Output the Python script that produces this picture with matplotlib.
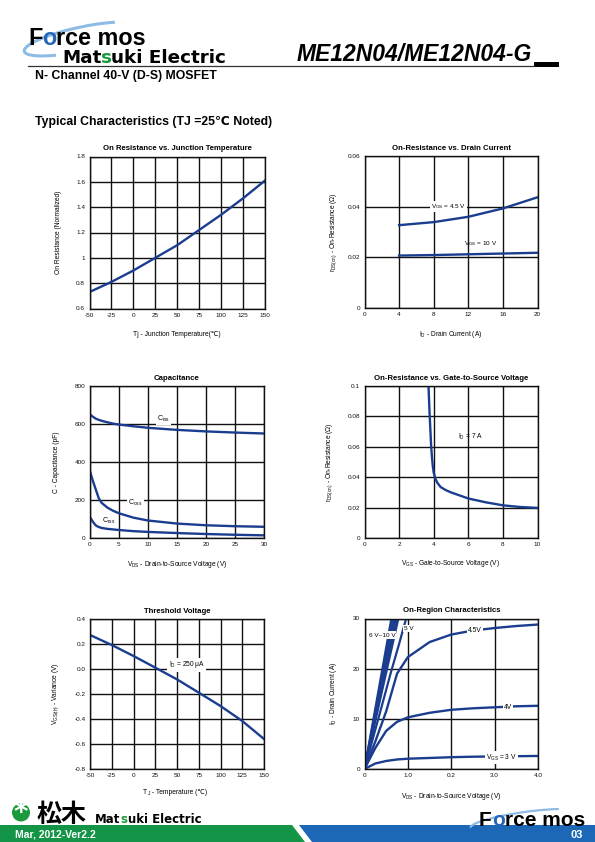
import matplotlib
matplotlib.use('Agg')
import matplotlib.pyplot as plt
from matplotlib.patches import Polygon, Circle, Arc, Rectangle
from matplotlib.transforms import Affine2D
from matplotlib.lines import Line2D
from matplotlib.font_manager import findfont, FontProperties
from matplotlib.ft2font import FT2Font

W, H = 595, 842
plt.rcParams['font.family'] = ['Liberation Sans', 'DejaVu Sans', 'Noto Sans CJK JP']
plt.rcParams['mathtext.fontset'] = 'custom'
plt.rcParams['mathtext.rm'] = 'Liberation Sans'
plt.rcParams['mathtext.it'] = 'Liberation Sans:italic'
plt.rcParams['mathtext.bf'] = 'Liberation Sans:bold'
plt.rcParams['mathtext.fallback'] = 'stixsans'
plt.rcParams['axes.unicode_minus'] = False

LINE = '#1b3d8f'

# ---------------- data ----------------
tj_temp = [-50, -25, 0, 25, 50, 75, 100, 125, 150]
ron_norm = [0.73, 0.81, 0.90, 1.0, 1.10, 1.22, 1.34, 1.47, 1.61]

id_current = [4, 8, 12, 16, 20]
ron_vgs45 = [0.0327, 0.0339, 0.0360, 0.0393, 0.0437]
ron_vgs10 = [0.0207, 0.0209, 0.0212, 0.0215, 0.0218]

cap_vds = [0, 0.5, 1, 1.5, 2, 3, 4, 5, 7.5, 10, 15, 20, 25, 30]
ciss = [650, 638, 628, 622, 617, 609, 602, 597, 588, 580, 569, 561, 555, 550]
coss = [350, 300, 255, 210, 185, 160, 143, 130, 107, 92, 76, 67, 62, 59]
crss = [110, 85, 66, 58, 53, 48, 45, 42, 36, 32, 26, 21, 17, 14]

vgs_sweep = [3.7, 3.75, 3.8, 3.85, 3.9, 3.95, 4.0, 4.1, 4.2, 4.4, 4.7, 5, 5.5, 6, 7, 8, 9, 10]
ron_vgs = [0.1, 0.085, 0.073, 0.061, 0.053, 0.047, 0.043, 0.039, 0.0365, 0.0335, 0.0315,
           0.030, 0.028, 0.026, 0.0235, 0.0215, 0.0204, 0.0198]

vth_temp = [-50, -25, 0, 25, 50, 75, 100, 125, 150]
vth_var = [0.272, 0.192, 0.104, 0.011, -0.083, -0.189, -0.296, -0.416, -0.56]

vds_on = [0, 0.25, 0.5, 0.75, 1.0, 1.5, 2.0, 2.5, 3.0, 3.5, 4.0]
id_vgs3 = [0, 1.1, 1.6, 1.9, 2.05, 2.2, 2.35, 2.45, 2.5, 2.55, 2.6]
id_vgs4 = [0, 4.2, 7.6, 9.4, 10.3, 11.2, 11.8, 12.1, 12.3, 12.5, 12.6]
id_vgs45 = [0, 5.5, 11.5, 19.0, 22.3, 25.3, 26.8, 27.6, 28.1, 28.5, 28.8]
vds_5v = [0, 0.2, 0.4, 0.6, 0.8, 0.96]
id_5v = [0, 6.3, 12.6, 19.0, 25.0, 30.0]
vds_hi_end = [0.78, 0.74, 0.70, 0.66, 0.62]   # 6 V ... 10 V at 30 A
id_hi_end = 30

# ---------------- figure ----------------
fig = plt.figure(figsize=(W / 100, H / 100), dpi=100)
pix = Affine2D().scale(1.0 / W, -1.0 / H).translate(0, 1) + fig.transFigure


def run_width(s, size, family, weight='normal', style='normal'):
    fonts = []
    for fam in [family, 'DejaVu Sans']:
        f = FT2Font(findfont(FontProperties(family=fam, weight=weight, style=style)),
                    hinting_factor=1)
        f.set_size(size, 100)
        fonts.append(f)
    w = 0.0
    for c in s:
        for f in fonts:
            if f.get_char_index(ord(c)):
                g = f.load_char(ord(c))
                w += g.linearHoriAdvance / 65536.0
                break
    return w


def place_runs(x, y, runs, center=False):
    """runs: (text, size, color, family, weight, style, dy)"""
    widths = [run_width(r[0], r[1], r[3], r[4], r[5]) for r in runs]
    if center:
        x -= sum(widths) / 2.0
    for (s, size, color, fam, wt, st, dy), w in zip(runs, widths):
        fig.text(x, y + dy, s, transform=pix, fontsize=size, color=color, family=[fam, 'DejaVu Sans'],
                 fontweight=wt, fontstyle=st, va='baseline', ha='left')
        x += w


def make_ax(x0, y0, x1, y1):
    ax = fig.add_axes([x0 / W, 1 - y1 / H, (x1 - x0) / W, (y1 - y0) / H])
    ax.grid(True, color='#111111', lw=1.0)
    ax.set_axisbelow(True)
    for s in ax.spines.values():
        s.set_color('#111111')
        s.set_linewidth(1.0)
    ax.tick_params(length=0, labelsize=4.6, pad=3.2, colors='#111111')
    return ax


def style(ax, title, xlabel, ylabel, xl, yl):
    ax.set_title(title, fontsize=5.6, fontweight='bold', pad=4.5)
    ax.set_xlabel(xlabel, fontsize=4.8, va='center', ha='center')
    ax.set_ylabel(ylabel, fontsize=4.8, va='center', ha='center')
    ax.xaxis.set_label_coords(0.5, xl)
    ax.yaxis.set_label_coords(yl, 0.5)


WB = dict(facecolor='white', edgecolor='none', pad=0.8)

# Plot 1
ax1 = make_ax(89.5, 156.5, 265, 308.5)
ax1.plot(tj_temp, ron_norm, color=LINE, lw=1.7)
ax1.set_xlim(-50, 150)
ax1.set_ylim(0.6, 1.8)
ax1.set_xticks([-50, -25, 0, 25, 50, 75, 100, 125, 150])
ax1.set_yticks([0.6, 0.8, 1.0, 1.2, 1.4, 1.6, 1.8])
ax1.set_yticklabels(['0.6', '0.8', '1', '1.2', '1.4', '1.6', '1.8'])
style(ax1, 'On Resistance vs. Junction Temperature', 'Tj - Junction Temperature(\u2103)',
      'On Resistance (Normalized)', -0.168, -0.174)

# Plot 2
ax2 = make_ax(364.5, 156, 537.5, 308)
ax2.plot(id_current, ron_vgs45, color=LINE, lw=1.7)
ax2.plot(id_current, ron_vgs10, color=LINE, lw=1.7)
ax2.set_xlim(0, 20)
ax2.set_ylim(0, 0.06)
ax2.set_xticks([0, 4, 8, 12, 16, 20])
ax2.set_yticks([0, 0.02, 0.04, 0.06])
ax2.set_yticklabels(['0', '0.02', '0.04', '0.06'])
ax2.text(9.7, 0.040, r'V$_{\mathrm{GS}}$ = 4.5 V', fontsize=4.6, ha='center', va='center', bbox=WB, zorder=5)
ax2.text(13.4, 0.0255, r'V$_{\mathrm{GS}}$ = 10 V', fontsize=4.6, ha='center', va='center', zorder=5)
style(ax2, 'On-Resistance vs. Drain Current', r'I$_{\mathrm{D}}$ - Drain Current (A)',
      r'r$_{\mathrm{DS(on)}}$ - On-Resistance ($\Omega$)', -0.173, -0.18)

# Plot 3
ax3 = make_ax(90, 386, 264, 538)
ax3.plot(cap_vds, ciss, color=LINE, lw=1.7)
ax3.plot(cap_vds, coss, color=LINE, lw=1.7)
ax3.plot(cap_vds, crss, color=LINE, lw=1.7)
ax3.set_xlim(0, 30)
ax3.set_ylim(0, 800)
ax3.set_xticks([0, 5, 10, 15, 20, 25, 30])
ax3.set_yticks([0, 200, 400, 600, 800])
ax3.text(12.6, 628, r'C$_{\mathrm{iss}}$', fontsize=5, ha='center', va='center', bbox=WB, zorder=5)
ax3.text(7.8, 183, r'C$_{\mathrm{oss}}$', fontsize=5, ha='center', va='center', bbox=WB, zorder=5)
ax3.text(3.3, 90, r'C$_{\mathrm{rss}}$', fontsize=5, ha='center', va='center', zorder=5)
style(ax3, 'Capacitance', r'V$_{\mathrm{DS}}$ - Drain-to-Source Voltage (V)',
      'C - Capacitance (pF)', -0.173, -0.19)

# Plot 4
ax4 = make_ax(364.5, 386, 537.5, 538)
ax4.plot(vgs_sweep, ron_vgs, color=LINE, lw=1.7)
ax4.set_xlim(0, 10)
ax4.set_ylim(0, 0.1)
ax4.set_xticks([0, 2, 4, 6, 8, 10])
ax4.set_yticks([0, 0.02, 0.04, 0.06, 0.08, 0.1])
ax4.set_yticklabels(['0', '0.02', '0.04', '0.06', '0.08', '0.1'])
ax4.text(6.1, 0.0667, r'I$_{\mathrm{D}}$ = 7 A', fontsize=4.8, ha='center', va='center', zorder=5)
style(ax4, 'On-Resistance vs. Gate-to-Source Voltage', r'V$_{\mathrm{GS}}$ - Gate-to-Source Voltage (V)',
      r'r$_{\mathrm{DS(on)}}$ - On-Resistance ($\Omega$)', -0.17, -0.2)

# Plot 5
ax5 = make_ax(90, 619, 264, 769)
ax5.plot(vth_temp, vth_var, color=LINE, lw=1.7)
ax5.set_xlim(-50, 150)
ax5.set_ylim(-0.8, 0.4)
ax5.set_xticks([-50, -25, 0, 25, 50, 75, 100, 125, 150])
ax5.set_yticks([-0.8, -0.6, -0.4, -0.2, 0.0, 0.2, 0.4])
ax5.set_yticklabels(['-0.8', '-0.6', '-0.4', '-0.2', '0.0', '0.2', '0.4'])
ax5.text(61, 0.032, 'I$_{\\mathrm{D}}$ = 250 \u03bcA', fontsize=4.8, ha='center', va='center', bbox=WB, zorder=5)
style(ax5, 'Threshold Voltage', '', r'V$_{\mathrm{GS(th)}}$ - Variance (V)', -0.151, -0.2)
place_runs(177, 793.5, [('T', 4.8, 'black', 'Liberation Sans', 'normal', 'normal', 0),
                        ('J', 3.4, 'black', 'Liberation Sans', 'normal', 'normal', 1.2),
                        (' - Temperature (\u2103)', 4.8, 'black', 'Liberation Sans', 'normal', 'normal', 0)],
           center=True)

# Plot 6
ax6 = make_ax(364.5, 618.5, 538, 769)
for xe in vds_hi_end:
    ax6.plot([0, xe], [0, id_hi_end], color=LINE, lw=1.6)
ax6.plot(vds_5v, id_5v, color=LINE, lw=1.6)
ax6.plot(vds_on, id_vgs45, color=LINE, lw=1.7)
ax6.plot(vds_on, id_vgs4, color=LINE, lw=1.7)
ax6.plot(vds_on, id_vgs3, color=LINE, lw=1.7)
ax6.set_xlim(0, 4)
ax6.set_ylim(0, 30)
ax6.set_xticks([0, 1, 2, 3, 4])
ax6.set_xticklabels(['0', '1.0', '0.2', '3.0', '4.0'])
ax6.set_yticks([0, 10, 20, 30])
ax6.text(0.40, 26.7, '6 V~10 V', fontsize=4.6, ha='center', va='center', bbox=WB, zorder=5)
ax6.text(1.03, 28.0, '5 V', fontsize=4.6, ha='center', va='center', bbox=WB, zorder=5)
ax6.text(2.55, 27.7, '4.5V', fontsize=4.8, ha='center', va='center', bbox=WB, zorder=5)
ax6.text(3.31, 12.2, '4V', fontsize=4.8, ha='center', va='center', bbox=WB, zorder=5)
ax6.text(3.16, 2.3, r'V$_{\mathrm{GS}}$ = 3 V', fontsize=4.8, ha='center', va='center', bbox=WB, zorder=5)
style(ax6, 'On-Region Characteristics', r'V$_{\mathrm{DS}}$ - Drain-to-Source Voltage (V)',
      r'I$_{\mathrm{D}}$ - Drain Current (A)', -0.184, -0.18)

# ---------------- header ----------------
fig.add_artist(Arc((82, 39), 118, 24, angle=-12, theta1=160, theta2=345,
                   transform=pix, color='#8dbbe6', lw=2.2))
LB, DB = 'Liberation Sans', 'DejaVu Sans'
place_runs(28, 45, [('F', 16.8, 'black', LB, 'bold', 'normal', 0),
                    ('o', 16.8, '#2466b8', LB, 'bold', 'normal', 0),
                    ('rce mos', 16.8, 'black', LB, 'bold', 'normal', 0)])
place_runs(62, 63, [('Mat', 13.2, 'black', DB, 'bold', 'normal', 0),
                    ('s', 13.2, '#1a9a3c', DB, 'bold', 'normal', 0),
                    ('uki Electric', 13.2, 'black', DB, 'bold', 'normal', 0)])
fig.text(297, 61, 'ME12N04/ME12N04-G', transform=pix, fontsize=16.5, fontweight='bold',
         fontstyle='italic', va='baseline', ha='left', family='Liberation Sans')
fig.add_artist(Line2D([28, 534], [65.5, 65.5], transform=pix, color='#333333', lw=0.9))
fig.add_artist(Rectangle((534, 62.3), 25, 4.4, transform=pix, color='black', lw=0))
fig.text(35, 79, 'N- Channel 40-V (D-S) MOSFET', transform=pix, fontsize=8.8,
         fontweight='bold', va='baseline', ha='left')
fig.text(35, 125.5, 'Typical Characteristics (TJ =25\u2103 Noted)', transform=pix, fontsize=8.8,
         fontweight='bold', va='baseline', ha='left')

# ---------------- footer ----------------
fig.add_artist(Polygon([(0, 825), (292, 825), (305, 842), (0, 842)], closed=True,
                       transform=pix, color='#139446', lw=0))
fig.add_artist(Polygon([(299, 825), (595, 825), (595, 842), (312, 842)], closed=True,
                       transform=pix, color='#1c68b6', lw=0))
fig.text(15, 837.5, 'Mar, 2012-Ver2.2', transform=pix, fontsize=7.5, fontweight='bold',
         color='white', va='baseline', ha='left')
fig.text(583, 838, '03', transform=pix, fontsize=8, fontweight='bold',
         color='white', va='baseline', ha='right')
fig.add_artist(Circle((21, 812.5), 9, transform=pix, color='#1a9a3c', lw=0))
fig.text(21, 813, '*', transform=pix, fontsize=20, fontweight='bold', color='white',
         va='center', ha='center', family='DejaVu Sans')
fig.text(37, 822, '松木', transform=pix, fontsize=18, fontweight='bold', color='black',
         va='baseline', ha='left', family='Noto Sans CJK JP')
place_runs(95, 823, [('Mat', 8.5, 'black', DB, 'bold', 'normal', 0),
                     ('s', 8.5, '#1a9a3c', DB, 'bold', 'normal', 0),
                     ('uki Electric', 8.5, 'black', DB, 'bold', 'normal', 0)])
fig.add_artist(Arc((525, 820), 110, 16, angle=-8, theta1=180, theta2=350,
                   transform=pix, color='#8dbbe6', lw=1.6))
place_runs(479, 826, [('F', 15, 'black', LB, 'bold', 'normal', 0),
                      ('o', 15, '#2466b8', LB, 'bold', 'normal', 0),
                      ('rce mos', 15, 'black', LB, 'bold', 'normal', 0)])

fig.savefig('out.png', dpi=100)
